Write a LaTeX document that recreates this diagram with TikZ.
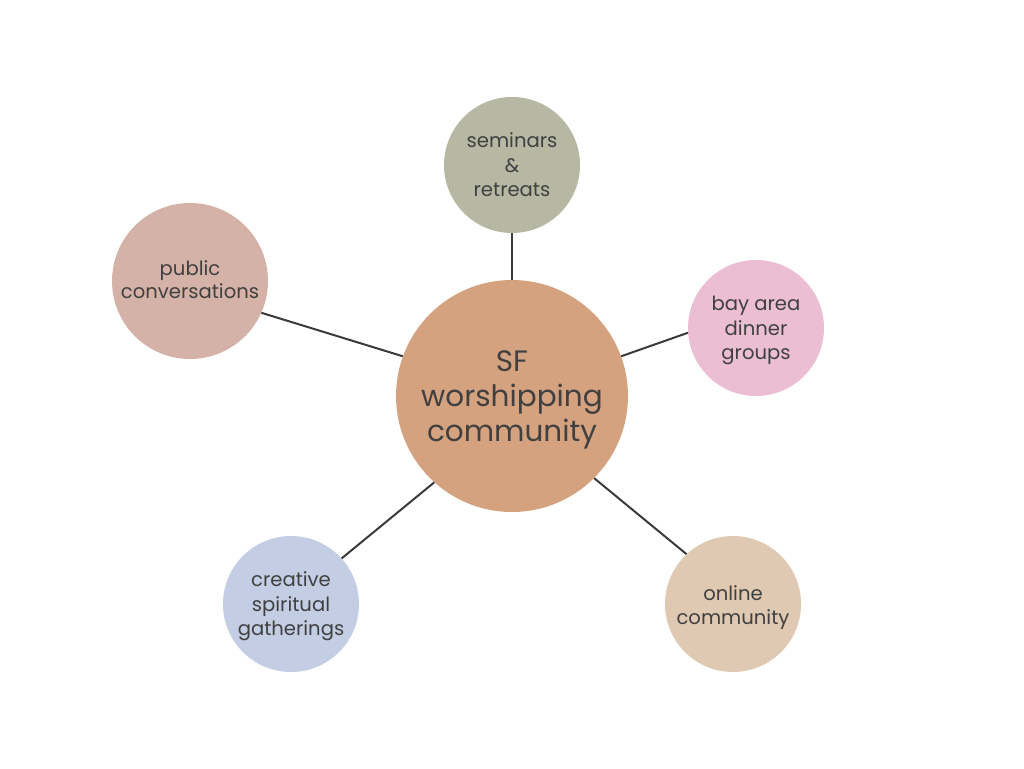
\documentclass[tikz,border=0pt]{standalone}
\usepackage{fontspec}
\setmainfont{Poppins}
\definecolor{txt}{HTML}{404040}
\definecolor{lnk}{HTML}{3A3A3A}
\definecolor{cmain}{HTML}{D4A27F}
\definecolor{ctop}{HTML}{B7B8A3}
\definecolor{cpub}{HTML}{D4B2A7}
\definecolor{cbay}{HTML}{ECBED3}
\definecolor{ccre}{HTML}{C3CDE4}
\definecolor{conl}{HTML}{E0C9B3}
\tikzset{
  bub/.style={circle, inner sep=0pt},
  btext/.style={text=txt, align=center, inner sep=0pt, yshift=-2.5pt, font=\fontsize{19.6}{24.5}\selectfont},
  htext/.style={text=txt, align=center, inner sep=0pt, yshift=-4pt, font=\fontsize{29.5}{35}\selectfont},
  link/.style={draw=lnk, line width=2pt}
}
\begin{document}
\begin{tikzpicture}[x=1pt,y=-1pt]
\useasboundingbox (0,0) rectangle (1024,768);
\node[bub, fill=cmain, minimum size=232pt, label={[htext]center:SF\\worshipping\\community}] (c) at (512,396) {};
\node[bub, fill=ctop, minimum size=136pt, label={[btext, yshift=2.5pt]center:seminars\\\&\\retreats}] (t) at (512,165) {};
\node[bub, fill=cpub, minimum size=156pt, label={[btext, yshift=4pt, font=\fontsize{19.6}{23.5}\selectfont]center:public\\conversations}] (p) at (190,281) {};
\node[bub, fill=cbay, minimum size=136pt, label={[btext]center:bay area\\dinner\\groups}] (b) at (756,328) {};
\node[bub, fill=ccre, minimum size=136pt, label={[btext]center:creative\\spiritual\\gatherings}] (g) at (291,604) {};
\node[bub, fill=conl, minimum size=136pt, label={[btext, yshift=-1pt]center:online\\community}] (o) at (733,604) {};
\draw[link] (c.90) -- (t.-90);
\draw[link] (c.160) -- (p.-24.6);
\draw[link] (c.20.9) -- (b.-176.6);
\draw[link] (c.-132.9) -- (g.42.7);
\draw[link] (c.-45) -- (o.133.3);
\end{tikzpicture}
\end{document}
